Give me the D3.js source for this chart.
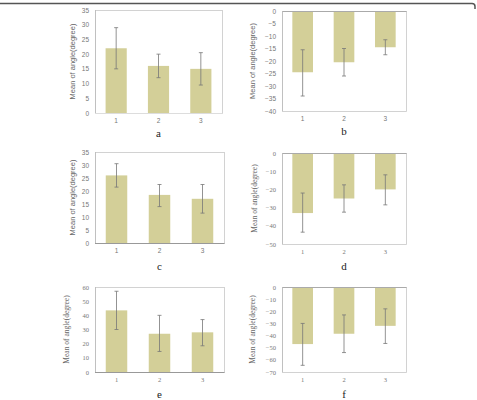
<!DOCTYPE html>
<html><head><meta charset="utf-8">
<script src="https://cdn.jsdelivr.net/npm/d3@7"></script>
<style>body{margin:0;background:#fff;}svg{display:block;}</style>
</head><body>
<svg id="c" width="477" height="400"></svg>
<script>
const categories = ["1","2","3"];
const meanA = [22, 16, 15],        errLoA = [15, 12, 9.5],     errHiA = [29, 20, 20.5];
const meanB = [-24.5, -20.5, -14.5], errLoB = [-34, -26, -17.5], errHiB = [-15.5, -15, -11.5];
const meanC = [26, 18.5, 17],      errLoC = [21.5, 14, 11.5],  errHiC = [30.5, 22.5, 22.5];
const meanD = [-33, -25, -20],     errLoD = [-43.5, -32.5, -28.5], errHiD = [-22, -17.5, -12];
const meanE = [43.5, 27, 28],      errLoE = [30, 14.5, 18.5],  errHiE = [57, 40, 37];
const meanF = [-47, -38.5, -32],   errLoF = [-64.5, -54, -46.5], errHiF = [-30, -23, -18];
const ticksA = [0,5,10,15,20,25,30,35];
const ticksB = [0,-5,-10,-15,-20,-25,-30,-35,-40];
const ticksC = [0,5,10,15,20,25,30,35];
const ticksD = [0,-10,-20,-30,-40,-50];
const ticksE = [0,10,20,30,40,50,60];
const ticksF = [0,-10,-20,-30,-40,-50,-60,-70];
const panelLetters = ["a","b","c","d","e","f"];
const yTitle = "Mean of angle(degree)";

const panels = [
  {m:meanA, lo:errLoA, hi:errHiA, t:ticksA, box:[95,10,222,113], tx:75, serif:false, axisCol:"#ddd", ly:137},
  {m:meanB, lo:errLoB, hi:errHiB, t:ticksB, box:[282,11,406,111], tx:255, serif:false, axisCol:"#aaa", ly:135},
  {m:meanC, lo:errLoC, hi:errHiC, t:ticksC, box:[95,152,224,243], tx:75, serif:false, axisCol:"#999", ly:270},
  {m:meanD, lo:errLoD, hi:errHiD, t:ticksD, box:[282,153,406,244], tx:257, serif:true, axisCol:"#aaa", ly:270},
  {m:meanE, lo:errLoE, hi:errHiE, t:ticksE, box:[95,287,224,372], tx:69, serif:true, axisCol:"#999", ly:398},
  {m:meanF, lo:errLoF, hi:errHiF, t:ticksF, box:[282,287,406,372], tx:255, serif:true, axisCol:"#aaa", ly:398}
];
const svg = d3.select("#c");
// top frame line
svg.append("path").attr("d","M0,3.5 H472 Q475,3.5 475,6.5 V9").attr("fill","none").attr("stroke","#555").attr("stroke-width",1.5);

panels.forEach((p,i)=>{
  const [x0,y0,x1,y1] = p.box;
  const g = svg.append("g");
  const ext = d3.extent(p.t);
  const y = d3.scaleLinear().domain(ext[0]<0?[ext[0],0]:[0,ext[1]]).range([y1,y0]);
  const x = d3.scaleBand().domain(categories).range([x0,x1]).paddingInner(0.5).paddingOuter(0.25);
  g.append("rect").attr("x",x0+0.5).attr("y",y0+0.5).attr("width",x1-x0).attr("height",y1-y0)
    .attr("fill","none").attr("stroke","#c8c8c8").attr("stroke-width",0.8);
  g.selectAll(".bar").data(p.m).join("rect")
    .attr("x",(d,j)=>x(categories[j])).attr("width",x.bandwidth())
    .attr("y",d=>Math.min(y(d),y(0))).attr("height",d=>Math.abs(y(d)-y(0)))
    .attr("fill","#d3cf98");
  const y0line = Math.round(y(0))+0.5;
  g.append("line").attr("x1",x0).attr("x2",x1+0.5).attr("y1",y0line).attr("y2",y0line).attr("stroke",p.axisCol).attr("stroke-width",1);
  g.append("line").attr("x1",x0+0.5).attr("x2",x0+0.5).attr("y1",y0).attr("y2",y1).attr("stroke","#bbb").attr("stroke-width",0.8);
  p.m.forEach((d,j)=>{
    const cx = x(categories[j]) + x.bandwidth()/2;
    g.append("line").attr("x1",cx).attr("x2",cx).attr("y1",y(p.lo[j])).attr("y2",y(p.hi[j])).attr("stroke","#777").attr("stroke-width",0.8);
    [p.lo[j],p.hi[j]].forEach(v=>{
      g.append("line").attr("x1",cx-2).attr("x2",cx+2).attr("y1",y(v)).attr("y2",y(v)).attr("stroke","#777").attr("stroke-width",0.8);
    });
  });
  const font = p.serif ? "Liberation Serif" : "Liberation Sans";
  const yAxis = d3.axisLeft(y).tickValues(p.t).tickSize(0).tickPadding(6);
  const ya = g.append("g").attr("transform",`translate(${x0},0)`).call(yAxis);
  ya.select(".domain").remove();
  ya.selectAll("text").attr("font-family",font).attr("font-size",6.5).attr("fill","#777");
  const xAxis = d3.axisBottom(x).tickSize(0).tickPadding(5);
  const xa = g.append("g").attr("transform",`translate(0,${y1})`).call(xAxis);
  xa.select(".domain").remove();
  xa.selectAll("text").attr("font-family",font).attr("font-size",6.5).attr("fill","#777");
  g.append("text").attr("transform",`translate(${p.tx},${(y0+y1)/2}) rotate(-90)`)
    .attr("text-anchor","middle").attr("font-family",font)
    .attr("font-size",7.5).attr("fill","#666").text(yTitle);
  g.append("text").attr("x",(x0+x1)/2).attr("y",p.ly)
    .attr("text-anchor","middle").attr("font-family","Liberation Serif").attr("font-size",11).attr("fill","#222")
    .text(panelLetters[i]);
});
</script>
</body></html>
